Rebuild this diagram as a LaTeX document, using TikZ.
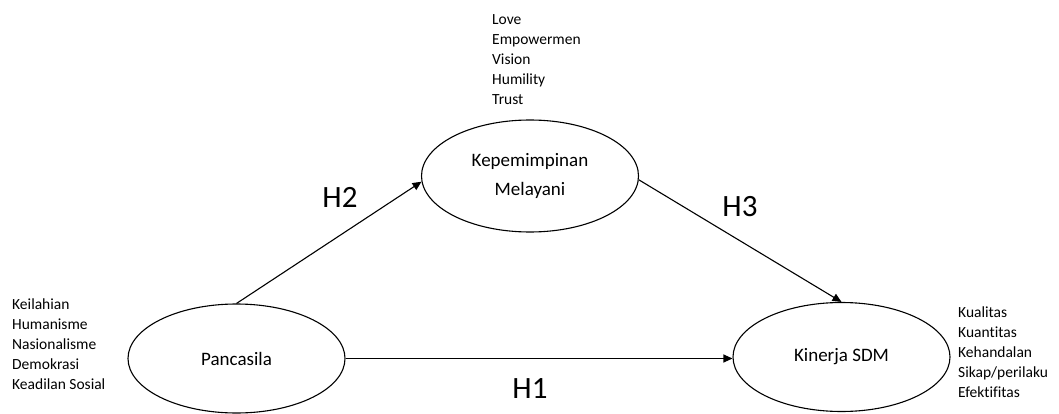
\documentclass[tikz,border=0pt]{standalone}
\usepackage{fontspec}
\setmainfont[Ligatures=NoCommon]{Carlito}
\usetikzlibrary{shapes.geometric,arrows.meta,positioning}

\tikzset{
  konstruk/.style={draw,ellipse,line width=1.1pt,minimum width=217pt,minimum height=109pt,
    inner sep=0pt,align=center,font=\fontsize{19}{25}\selectfont},
  indikator/.style={align=left,inner sep=0pt,anchor=base west,font=\fontsize{15.5}{20}\selectfont},
  hipotesis/.style={inner sep=0pt,font=\fontsize{31}{36}\selectfont},
  panah/.style={line width=1.1pt,-{Triangle[length=9pt,width=8pt]}}
}

\begin{document}
\begin{tikzpicture}[x=1pt,y=-1pt]
  \useasboundingbox (0,0) rectangle (1059,414);

  % variabel
  \node[konstruk] (panc) at (236.5,358.5) {Pancasila};
  \node[konstruk,minimum height=112pt] (kep) at (530,176) {Kepemimpinan\\[4pt]Melayani};
  \node[konstruk] (kin) at (841.5,357) {Kinerja SDM};

  % indikator (anchored at the baseline of the last line)
  \node[indikator] (indpanc) at (12,389) {Keilahian\\Humanisme\\Nasionalisme\\Demokrasi\\Keadilan Sosial};
  \node[indikator] (indkep) at (492,105) {Love\\Empowermen\\Vision\\Humility\\Trust};
  \node[indikator] (indkin) at (958,397) {Kualitas\\Kuantitas\\Kehandalan\\Sikap/perilaku\\Efektifitas};

  % hipotesis
  \draw[panah] (panc.north) -- (kep.183);
  \draw[panah] (kep.-2) -- (kin.north);
  \draw[panah] (panc.east) -- (panc.east -| kin.west);
  \node[hipotesis] (h2) at (340,197) {H2};
  \node[hipotesis] (h3) at (740,207) {H3};
  \node[hipotesis] (h1) at (530,389) {H1};
\end{tikzpicture}
\end{document}
